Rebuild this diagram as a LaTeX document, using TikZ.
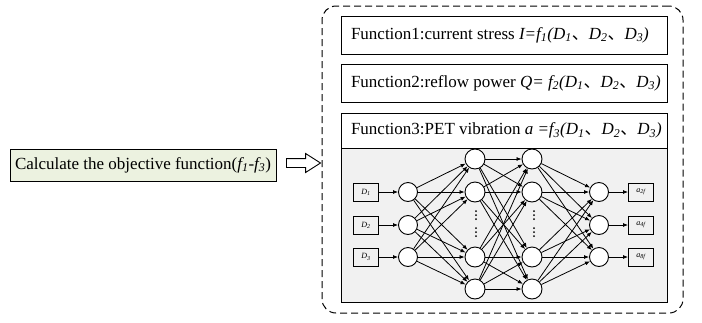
\documentclass[tikz,border=0pt]{standalone}
\usepackage{fontspec}
\setmainfont{Liberation Serif}
\newfontfamily\cjk{Noto Sans CJK SC}
\usetikzlibrary{arrows.meta,shapes.arrows,positioning}
\definecolor{calcgreen}{RGB}{236,242,224}
\definecolor{panelgray}{RGB}{241,241,241}
\newcommand{\dsep}{{\cjk 、}}
\newcommand{\fargs}{\textit{(D\textsubscript{1}}\dsep\textit{D\textsubscript{2}}\dsep\textit{D\textsubscript{3})}}
\newcommand{\flin}[1]{\makebox[306pt][l]{#1}}
\tikzset{
  funcbox/.style={draw, line width=0.9pt, fill=white, minimum height=38pt, inner xsep=10pt,
    font=\fontsize{17}{20}\selectfont},
  neuron/.style={draw, circle, line width=0.9pt, fill=white, minimum size=19pt, inner sep=0pt},
  iobox/.style={draw, line width=0.9pt, fill=panelgray, minimum width=25pt, minimum height=18pt,
    inner sep=0pt, font=\fontsize{8}{9}\selectfont\itshape},
  link/.style={-{Latex[length=5pt,width=4pt]}, line width=0.8pt}
}
\begin{document}
\begin{tikzpicture}[x=1pt,y=-1pt]
\useasboundingbox (0,0) rectangle (702,322);
% left step and hollow arrow
\node[draw, line width=0.9pt, fill=calcgreen, minimum width=266pt, minimum height=32pt,
  font=\fontsize{17}{20}\selectfont] (calc) at (143,165)
  {Calculate the objective function(\textit{f\textsubscript{1}-f\textsubscript{3}})};
\node[single arrow, draw, line width=0.9pt, minimum height=34pt, inner xsep=0pt, inner ysep=4pt,
  single arrow head extend=5pt, single arrow tip angle=65] (arr) at (300,163) {};

% dashed frame
\node[draw, dashed, dash pattern=on 7pt off 4pt, rounded corners=14pt, line width=1pt,
  minimum width=361pt, minimum height=307pt] (outer) at (502.5,159.5) {};

% function boxes
\node[funcbox] (f1) at (504,35) {\flin{Function1:current stress \textit{I=f\textsubscript{1}}\fargs}};
\node[funcbox] (f2) at (504,83) {\flin{Function2:reflow power \textit{Q= f\textsubscript{2}}\fargs}};
\node[funcbox, minimum height=35pt] (f3) at (504,130.5) {\flin{Function3:PET vibration \textit{a =f\textsubscript{3}}\fargs}};
\node[draw, line width=0.9pt, fill=panelgray, minimum width=326pt, minimum height=154pt] (panel) at (504,225) {};

% network
\foreach \y [count=\i] in {192,225,257} {
  \node[iobox] (in\i) at (366,\y) {D\textsubscript{\i}};
  \node[neuron] (a\i) at (408,\y) {};
  \node[neuron] (d\i) at (599,\y) {};
}
\foreach \y/\s [count=\i] in {192/2f,225/4f,257/8f}
  \node[iobox] (out\i) at (641,\y) {a\textsubscript{\s}};
\foreach \y [count=\i] in {159,192,257,289} {
  \node[neuron, minimum size=20pt] (b\i) at (475,\y) {};
  \node[neuron, minimum size=20pt] (c\i) at (532,\y) {};
}
\foreach \y in {211,215,219,228,232,236} {
  \fill (476,\y) circle (1pt);
  \fill (534,\y) circle (1pt);
}

\foreach \i in {1,2,3} {
  \draw[link] (in\i) -- (a\i);
  \draw[link] (d\i) -- (out\i);
}
\foreach \i in {1,2,3}
  \foreach \j in {1,...,4}
    \draw[link] (a\i) -- (b\j);
\foreach \i in {1,...,4}
  \foreach \j in {1,...,4}
    \draw[link] (b\i) -- (c\j);
\foreach \i in {1,...,4}
  \foreach \j in {1,2,3}
    \draw[link] (c\i) -- (d\j);
\end{tikzpicture}
\end{document}
